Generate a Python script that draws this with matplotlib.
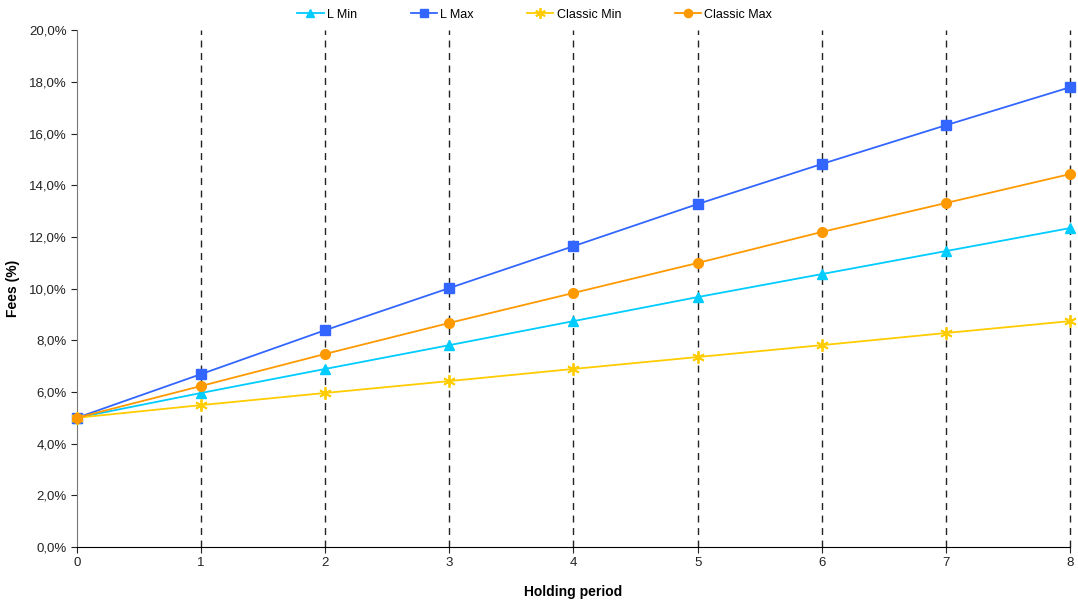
import numpy as np
from matplotlib import pyplot as plt
from matplotlib.ticker import FuncFormatter

plt.rcParams['font.family'] = ['Liberation Sans', 'DejaVu Sans']

# holding period and fee series (%)
periods = [0, 1, 2, 3, 4, 5, 6, 7, 8]
l_min = [5.0, 5.96, 6.89, 7.81, 8.74, 9.67, 10.56, 11.45, 12.34]
l_max = [5.0, 6.69, 8.39, 10.02, 11.64, 13.27, 14.82, 16.32, 17.79]
classic_min = [5.0, 5.49, 5.96, 6.42, 6.89, 7.35, 7.81, 8.28, 8.74]
classic_max = [5.0, 6.23, 7.47, 8.67, 9.83, 10.99, 12.19, 13.31, 14.43]

fig = plt.figure(figsize=(10.78, 6.03), dpi=100)
ax = fig.add_axes([0.0714, 0.0929, 0.9212, 0.8571])

# dashed vertical grid at each period
for p in periods[1:]:
    ax.axvline(p, color='#222222', linestyle=(0, (5, 4)), linewidth=1, zorder=1, clip_on=False)

ax.plot(periods, l_min, color='#00CCFF', marker='^', markersize=7, linewidth=1.3,
        label='L Min', zorder=3, clip_on=False)
ax.plot(periods, l_max, color='#3366FF', marker='s', markersize=7, linewidth=1.3,
        label='L Max', zorder=3, clip_on=False)
ax.plot(periods, classic_min, color='#FFCC00', marker=(6, 2, 0), markersize=9, markeredgewidth=1.3,
        linewidth=1.3, label='Classic Min', zorder=3, clip_on=False)
ax.plot(periods, classic_max, color='#FF9900', marker='o', markersize=7, linewidth=1.3,
        label='Classic Max', zorder=3, clip_on=False)

ax.set_xlim(0, 8)
ax.set_ylim(0, 20)
ax.set_xticks(periods)
ax.set_yticks(np.arange(0, 21, 2))
ax.yaxis.set_major_formatter(FuncFormatter(lambda v, pos: ('%.1f%%' % v).replace('.', ',')))
ax.tick_params(labelsize=9.5, length=4, direction='out', colors='#222222')

ax.spines['top'].set_visible(False)
ax.spines['right'].set_visible(False)
ax.spines['left'].set_color('#777777')
ax.spines['bottom'].set_color('black')

ax.set_xlabel('Holding period', fontsize=10, fontweight='bold', labelpad=11)
ax.set_ylabel('Fees (%)', fontsize=10, fontweight='bold', labelpad=6)

fig.legend(loc='upper center', bbox_to_anchor=(0.496, 1.004), ncol=4, frameon=False,
           fontsize=9, handlelength=2.1, handletextpad=0.25, columnspacing=4.3, markerscale=0.85)

plt.savefig('out.png')
